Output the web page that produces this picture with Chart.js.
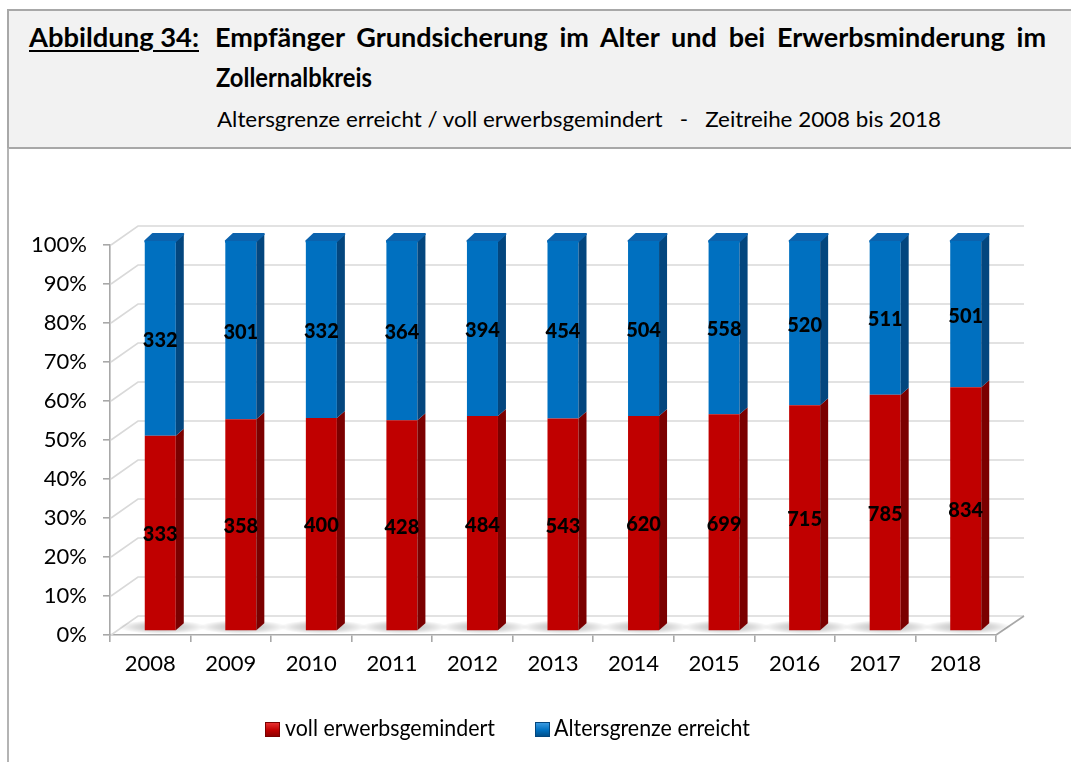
<!DOCTYPE html>
<html>
<head>
<meta charset="utf-8">
<script src="https://cdn.jsdelivr.net/npm/chart.js@4.4.1/dist/chart.umd.min.js"></script>
<style>
  html,body{margin:0;padding:0;background:#fff;}
  body{width:1071px;height:762px;position:relative;overflow:hidden;font-family:Lato,"Open Sans",sans-serif;color:#000;}
  #c{position:absolute;left:0;top:0;}
  #hdr{position:absolute;left:7px;top:9px;width:1090px;height:140px;box-sizing:border-box;background:#f2f2f2;border:2px solid #a8a8a8;z-index:1;}
  #frame{position:absolute;left:7px;top:148px;width:2px;height:620px;background:#b4b4b4;z-index:1;}
  .t{position:absolute;white-space:pre;line-height:1.2;z-index:2;transform-origin:0 50%;}
  .b{font-weight:bold;}
  #t0{left:29px;top:21px;font-size:27px;text-decoration:underline;text-decoration-thickness:2px;text-underline-offset:3px;}
  #t1{left:215px;top:21px;font-size:27px;}
  #t2{left:216px;top:61px;font-size:27px;}
  #t3{left:217px;top:106px;font-size:21px;}
  .mk{position:absolute;width:15px;height:15px;box-sizing:border-box;z-index:2;}
  #m1{left:265px;top:722px;background:linear-gradient(180deg,#e83030 0%,#c00000 55%,#900000 100%);border:1px solid #7a0000;}
  #m2{left:535px;top:722px;background:linear-gradient(180deg,#3a9ae0 0%,#0070c0 55%,#00508c 100%);border:1px solid #03467e;}
  #l1{left:285px;top:713px;font-size:24px;}
  #l2{left:554px;top:713px;font-size:24px;}
</style>
</head>
<body>
<canvas id="c" width="1071" height="762"></canvas>
<div id="hdr"></div>
<div id="frame"></div>
<div class="t b" id="t0">Abbildung 34:</div>
<div class="t b" id="t1">Empfänger Grundsicherung im Alter und bei Erwerbsminderung im</div>
<div class="t b" id="t2">Zollernalbkreis</div>
<div class="t" id="t3">Altersgrenze erreicht / voll erwerbsgemindert   -   Zeitreihe 2008 bis 2018</div>
<div class="mk" id="m1"></div><div class="t" id="l1">voll erwerbsgemindert</div>
<div class="mk" id="m2"></div><div class="t" id="l2">Altersgrenze erreicht</div>
<script>
// ---- data ----
const categories = ['2008','2009','2010','2011','2012','2013','2014','2015','2016','2017','2018'];
const vollErwerbsgemindert = [333,358,400,428,484,543,620,699,715,785,834];
const altersgrenzeErreicht = [332,301,332,364,394,454,504,558,520,511,501];
const seriesNames = ['voll erwerbsgemindert','Altersgrenze erreicht'];
const yTickValues = [0,10,20,30,40,50,60,70,80,90,100];

const counts = [vollErwerbsgemindert, altersgrenzeErreicht];
const totals = categories.map((_,i)=>vollErwerbsgemindert[i]+altersgrenzeErreicht[i]);
const pctVoll = vollErwerbsgemindert.map((v,i)=>v/totals[i]*100);
const pctAlter = altersgrenzeErreicht.map((v,i)=>v/totals[i]*100);

// ---- fit header / legend text widths ----
function fitWidth(id, target){
  const el=document.getElementById(id);
  const w=el.getBoundingClientRect().width;
  el.style.transform='scaleX('+(target/w)+')';
}
function justify(id, target){
  const el=document.getElementById(id);
  const w=el.getBoundingClientRect().width;
  const n=(el.textContent.match(/ /g)||[]).length;
  if(w<target){ el.style.wordSpacing=((target-w)/n)+'px'; }
  else { el.style.transform='scaleX('+(target/w)+')'; }
}
fitWidth('t0',170);
justify('t1',831);
fitWidth('t2',156);
fitWidth('t3',724);
fitWidth('l1',210);
fitWidth('l2',196);

// ---- 3D geometry ----
const DX=28, DY=-19;   // wall depth
const BX=10, BY=-4;    // bar front offset
const SX=8, SY=-7;     // bar depth
const sideColors=['#7b0000','#03467e'];
const capColor='#0b62ad';

const plugin3d={
  id:'threeD',
  beforeDatasetsDraw(chart){
    const {ctx, chartArea:a, scales:{x,y}}=chart;
    ctx.save();
    ctx.strokeStyle='#d9d9d9';
    ctx.lineWidth=1.6;
    yTickValues.forEach(v=>{
      const py=y.getPixelForValue(v);
      ctx.beginPath();
      ctx.moveTo(a.left+1,py);
      ctx.lineTo(a.left+DX,py+DY);
      ctx.lineTo(a.right+DX,py+DY);
      ctx.stroke();
    });
    const y0=y.getPixelForValue(0);
    ctx.strokeStyle='#a8a8a8';
    ctx.beginPath();
    ctx.moveTo(a.right,y0);
    ctx.lineTo(a.right+DX,y0+DY);
    ctx.stroke();
    // floor shadows
    const meta=chart.getDatasetMeta(0);
    meta.data.forEach(el=>{
      const cx=el.x+BX+2, cy=y0-8;
      ctx.save();
      ctx.translate(cx,cy);
      ctx.scale(1,0.16);
      const g=ctx.createRadialGradient(0,0,0,0,0,44);
      g.addColorStop(0,'rgba(0,0,0,0.30)');
      g.addColorStop(0.6,'rgba(0,0,0,0.14)');
      g.addColorStop(1,'rgba(0,0,0,0)');
      ctx.fillStyle=g;
      ctx.beginPath();ctx.arc(0,0,44,0,Math.PI*2);ctx.fill();
      ctx.restore();
    });
    ctx.restore();
    ctx.save();
    ctx.translate(BX,BY);
  },
  afterDatasetsDraw(chart){
    const ctx=chart.ctx;
    const nds=chart.data.datasets.length;
    for(let i=0;i<nds;i++){
      const meta=chart.getDatasetMeta(i);
      meta.data.forEach(el=>{
        const l=el.x-el.width/2, r=el.x+el.width/2, t=el.y, b=el.base;
        ctx.fillStyle=sideColors[i];
        ctx.beginPath();
        ctx.moveTo(r,t);ctx.lineTo(r+SX,t+SY);ctx.lineTo(r+SX,b+SY);ctx.lineTo(r,b);
        ctx.closePath();ctx.fill();
        if(i===nds-1){
          ctx.fillStyle=capColor;
          ctx.strokeStyle=capColor;
          ctx.lineJoin='round';
          ctx.lineWidth=2;
          ctx.beginPath();
          ctx.moveTo(l+0.5,t);ctx.lineTo(l+SX,t+SY);ctx.lineTo(r+SX-0.5,t+SY);ctx.lineTo(r,t);
          ctx.closePath();ctx.fill();ctx.stroke();
          ctx.fillStyle='#0070c0';
          ctx.fillRect(l,t,el.width,2);
        }
      });
    }
    ctx.restore();
    // value labels
    ctx.save();
    ctx.font='900 20px Lato, "Open Sans", sans-serif';
    ctx.fillStyle='#000';
    ctx.textAlign='center';
    ctx.textBaseline='middle';
    for(let i=0;i<nds;i++){
      const meta=chart.getDatasetMeta(i);
      meta.data.forEach((el,j)=>{
        ctx.fillText(String(counts[i][j]), el.x+BX, (el.y+el.base)/2+BY+2);
      });
    }
    ctx.restore();
  }
};

const tickFont={family:'Lato, "Open Sans", sans-serif',size:22};
new Chart(document.getElementById('c'),{
  type:'bar',
  data:{
    labels:categories,
    datasets:[
      {label:seriesNames[0],data:pctVoll,backgroundColor:'#c00000',borderWidth:0,clip:false},
      {label:seriesNames[1],data:pctAlter,backgroundColor:'#0070c0',borderWidth:0,clip:false}
    ]
  },
  options:{
    responsive:false,
    animation:false,
    devicePixelRatio:1,
    layout:{padding:{left:0,right:75,top:245,bottom:0}},
    datasets:{bar:{categoryPercentage:1,barPercentage:31/80.5}},
    plugins:{legend:{display:false},tooltip:{enabled:false},title:{display:false}},
    scales:{
      x:{
        stacked:true,
        grid:{display:true,drawOnChartArea:false,drawTicks:true,tickLength:7,color:'#a8a8a8',lineWidth:1.6,offset:true},
        border:{display:true,color:'#a8a8a8',width:1.6},
        ticks:{font:tickFont,color:'#000',padding:9,maxRotation:0},
        afterFit(s){s.height=127;}
      },
      y:{
        stacked:true,
        min:0,max:100,
        afterBuildTicks(s){s.ticks=yTickValues.map(v=>({value:v}));},
        grid:{display:true,drawOnChartArea:false,drawTicks:true,tickLength:7,color:'#a8a8a8',lineWidth:1.6},
        border:{display:true,color:'#a8a8a8',width:1.6},
        ticks:{font:tickFont,color:'#000',padding:16,callback:v=>v+'%'},
        afterFit(s){s.width=110;}
      }
    }
  },
  plugins:[plugin3d]
});
</script>
</body>
</html>
